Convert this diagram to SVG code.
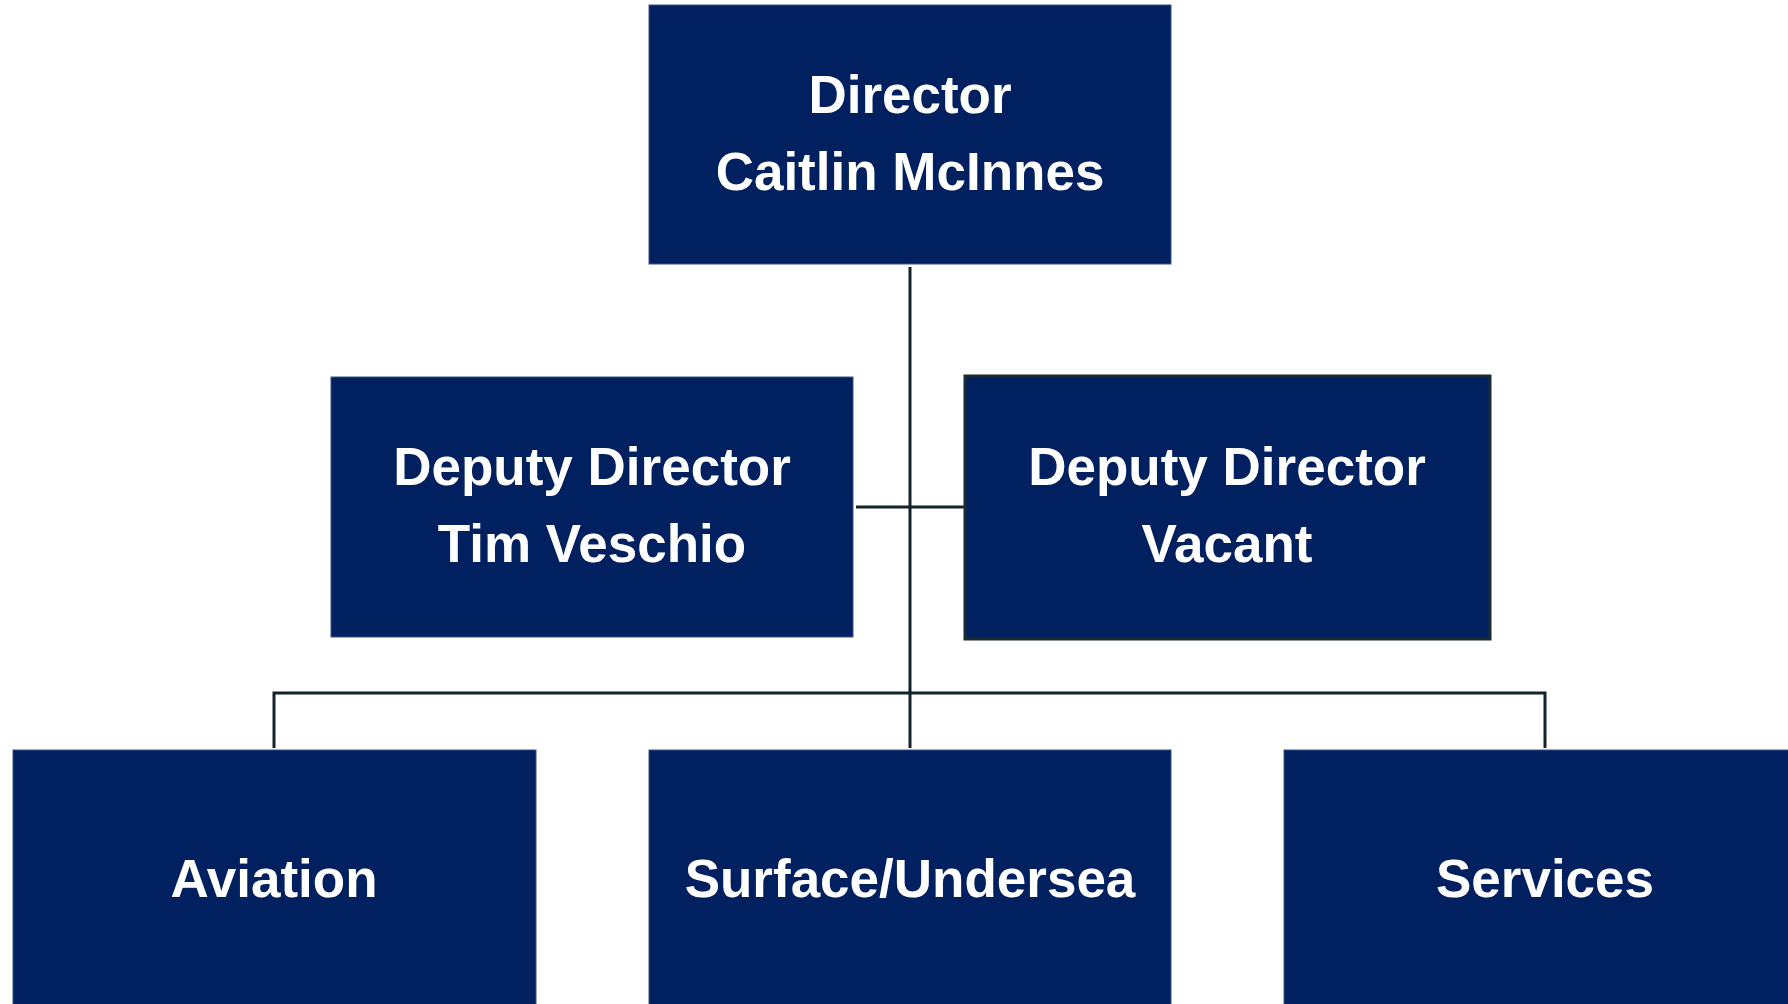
<svg xmlns="http://www.w3.org/2000/svg" width="1788" height="1004" viewBox="0 0 1788 1004">
<style>
.box{fill:#002060;stroke:#3d5283;stroke-width:1}
.boxd{fill:#002060;stroke:#1a2a33;stroke-width:3}
.t{font-family:"Liberation Sans",Arial,sans-serif;font-weight:bold;font-size:53px;fill:#ffffff;text-anchor:middle}
.c{fill:none;stroke:#14232a;stroke-width:3}
</style>
<rect width="1788" height="1004" fill="#ffffff"/>
<g id="connectors">
<line class="c" x1="910" y1="267" x2="910" y2="748"/>
<line class="c" x1="856" y1="507" x2="964" y2="507"/>
<polyline class="c" points="274,748 274,693 1545,693 1545,748"/>
</g>
<g id="director">
<rect class="box" x="649" y="5" width="522" height="259"/>
<text class="t" x="910" y="113">Director</text>
<text class="t" x="910" y="190">Caitlin McInnes</text>
</g>
<g id="deputy1">
<rect class="box" x="331" y="377" width="522" height="260"/>
<text class="t" x="592" y="485">Deputy Director</text>
<text class="t" x="592" y="562">Tim Veschio</text>
</g>
<g id="deputy2">
<rect class="boxd" x="965" y="376" width="525" height="263"/>
<text class="t" x="1227" y="485">Deputy Director</text>
<text class="t" x="1227" y="562">Vacant</text>
</g>
<g id="aviation">
<rect class="box" x="13" y="750" width="523" height="262"/>
<text class="t" x="274" y="897">Aviation</text>
</g>
<g id="surface">
<rect class="box" x="649" y="750" width="522" height="262"/>
<text class="t" x="910" y="897">Surface/Undersea</text>
</g>
<g id="services">
<rect class="box" x="1284" y="750" width="522" height="262"/>
<text class="t" x="1545" y="897">Services</text>
</g>
</svg>
